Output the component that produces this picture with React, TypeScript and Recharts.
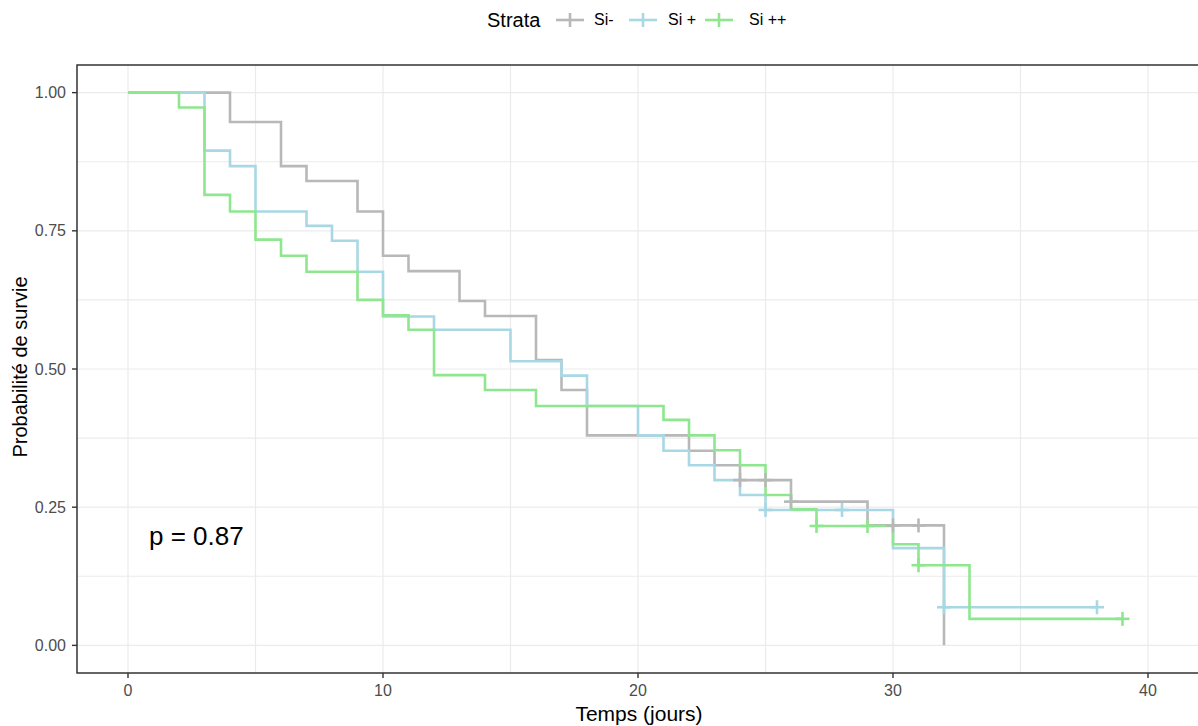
import React from 'react';
import { ComposedChart, Line, Scatter, XAxis, YAxis, CartesianGrid, ReferenceArea } from 'recharts';

// Kaplan-Meier steps (time in days, survival probability)
const siMoinsTemps = [0, 4, 6, 7, 9, 10, 11, 13, 14, 16, 17, 18, 22, 23, 24, 26, 29, 32];
const siMoinsSurvie = [1, 0.947, 0.867, 0.84, 0.785, 0.705, 0.677, 0.623, 0.596, 0.516, 0.462, 0.38, 0.352, 0.326, 0.299, 0.26, 0.217, 0];
const siMoinsCensureTemps = [24, 25, 26, 30, 31];
const siMoinsCensureSurvie = [0.299, 0.299, 0.26, 0.217, 0.217];

const siPlusTemps = [0, 3, 4, 5, 7, 8, 9, 10, 12, 15, 17, 18, 20, 21, 22, 23, 24, 25, 30, 32, 38];
const siPlusSurvie = [1, 0.895, 0.867, 0.785, 0.759, 0.732, 0.676, 0.595, 0.571, 0.514, 0.488, 0.433, 0.38, 0.352, 0.326, 0.299, 0.272, 0.245, 0.176, 0.069, 0.069];
const siPlusCensureTemps = [25, 28, 32, 38];
const siPlusCensureSurvie = [0.245, 0.245, 0.069, 0.069];

const siPlusPlusTemps = [0, 2, 3, 4, 5, 6, 7, 9, 10, 11, 12, 14, 16, 21, 22, 23, 24, 25, 26, 27, 30, 31, 33, 39];
const siPlusPlusSurvie = [1, 0.973, 0.815, 0.785, 0.734, 0.705, 0.676, 0.625, 0.597, 0.571, 0.489, 0.462, 0.433, 0.408, 0.38, 0.353, 0.326, 0.272, 0.246, 0.216, 0.183, 0.145, 0.048, 0.048];
const siPlusPlusCensureTemps = [27, 29, 31, 39];
const siPlusPlusCensureSurvie = [0.216, 0.216, 0.145, 0.048];

const strataLabels = ['Si-', 'Si +', 'Si ++'];
const xTicks = [0, 10, 20, 30, 40];
const yTicks = [0, 0.25, 0.5, 0.75, 1];
const xGrid = [0, 5, 10, 15, 20, 25, 30, 35, 40];
const yGrid = [0, 0.125, 0.25, 0.375, 0.5, 0.625, 0.75, 0.875, 1];

const COLORS = ['#b8b8b8', '#a8d8e4', '#8ee68e'];
const FONT = '"Liberation Sans", Arial, sans-serif';

const toRows = (t: number[], s: number[]) => t.map((v, i) => ({ t: v, s: s[i] }));

const series = [
  { name: strataLabels[0], line: toRows(siMoinsTemps, siMoinsSurvie), censor: toRows(siMoinsCensureTemps, siMoinsCensureSurvie) },
  { name: strataLabels[1], line: toRows(siPlusTemps, siPlusSurvie), censor: toRows(siPlusCensureTemps, siPlusCensureSurvie) },
  { name: strataLabels[2], line: toRows(siPlusPlusTemps, siPlusPlusSurvie), censor: toRows(siPlusPlusCensureTemps, siPlusPlusCensureSurvie) },
];

const makeCross = (color: string) => (props: any) => {
  const { cx, cy } = props;
  if (cx == null || cy == null) return <g />;
  return (
    <g stroke={color} strokeWidth={2.6}>
      <line x1={cx - 7} y1={cy} x2={cx + 7} y2={cy} />
      <line x1={cx} y1={cy - 7} x2={cx} y2={cy + 7} />
    </g>
  );
};

function LegendKey({ color }: { color: string }) {
  return (
    <svg width={30} height={20} style={{ display: 'block' }}>
      <line x1={1} y1={10} x2={29} y2={10} stroke={color} strokeWidth={2.6} />
      <line x1={15} y1={3} x2={15} y2={17} stroke={color} strokeWidth={2.6} />
    </svg>
  );
}

export default function App() {
  const tickStyle = { fill: '#4d4d4d', fontSize: 16, fontFamily: FONT };
  const legendLefts = [555, 628, 704];
  const labelLefts = [594, 668, 749];

  return (
    <div style={{ position: 'fixed', left: 0, top: 0, width: 1198, height: 726, overflow: 'hidden', background: '#fff', fontFamily: FONT }}>
      <ComposedChart width={1199} height={726} margin={{ top: 65, right: 0, bottom: 0, left: 0 }}>
        <CartesianGrid stroke="#ebebeb" strokeWidth={1.2} verticalValues={xGrid} horizontalValues={yGrid} />
        <XAxis
          type="number"
          dataKey="t"
          domain={[-2, 42]}
          ticks={xTicks}
          allowDataOverflow
          height={53}
          tickSize={5}
          tickMargin={7}
          axisLine={false}
          tickLine={{ stroke: '#333', strokeWidth: 1.4 }}
          tick={tickStyle}
        />
        <YAxis
          type="number"
          domain={[-0.05, 1.05]}
          ticks={yTicks}
          allowDataOverflow
          width={77}
          tickSize={5}
          tickMargin={6}
          axisLine={false}
          tickLine={{ stroke: '#333', strokeWidth: 1.4 }}
          tick={tickStyle}
          tickFormatter={(v: number) => v.toFixed(2)}
        />
        <ReferenceArea x1={-2} x2={42} y1={-0.05} y2={1.05} fill="none" stroke="#333" strokeWidth={1.5} fillOpacity={0} />
        {series.map((s, i) => (
          <Line
            key={`line-${i}`}
            data={s.line}
            dataKey="s"
            type="stepAfter"
            stroke={COLORS[i]}
            strokeWidth={2.6}
            dot={false}
            activeDot={false}
            isAnimationActive={false}
          />
        ))}
        {series.map((s, i) => (
          <Scatter
            key={`censor-${i}`}
            data={s.censor}
            dataKey="s"
            shape={makeCross(COLORS[i])}
            isAnimationActive={false}
          />
        ))}
      </ComposedChart>

      {/* legend */}
      <div style={{ position: 'absolute', left: 487, top: 8, fontSize: 20, lineHeight: '24px', color: '#000' }}>Strata</div>
      {series.map((s, i) => (
        <React.Fragment key={`leg-${i}`}>
          <div style={{ position: 'absolute', left: legendLefts[i], top: 10 }}>
            <LegendKey color={COLORS[i]} />
          </div>
          <div style={{ position: 'absolute', left: labelLefts[i], top: 10, fontSize: 16, lineHeight: '20px', color: '#000' }}>{s.name}</div>
        </React.Fragment>
      ))}

      {/* p-value */}
      <div style={{ position: 'absolute', left: 149, top: 520, fontSize: 26, lineHeight: '32px', color: '#000' }}>p = 0.87</div>

      {/* axis titles */}
      <div style={{ position: 'absolute', left: 639, top: 714, transform: 'translate(-50%, -50%)', fontSize: 21, whiteSpace: 'nowrap', color: '#000' }}>Temps (jours)</div>
      <div style={{ position: 'absolute', left: 20, top: 367, transform: 'translate(-50%, -50%) rotate(-90deg)', fontSize: 20, whiteSpace: 'nowrap', color: '#000' }}>Probabilité de survie</div>
    </div>
  );
}
